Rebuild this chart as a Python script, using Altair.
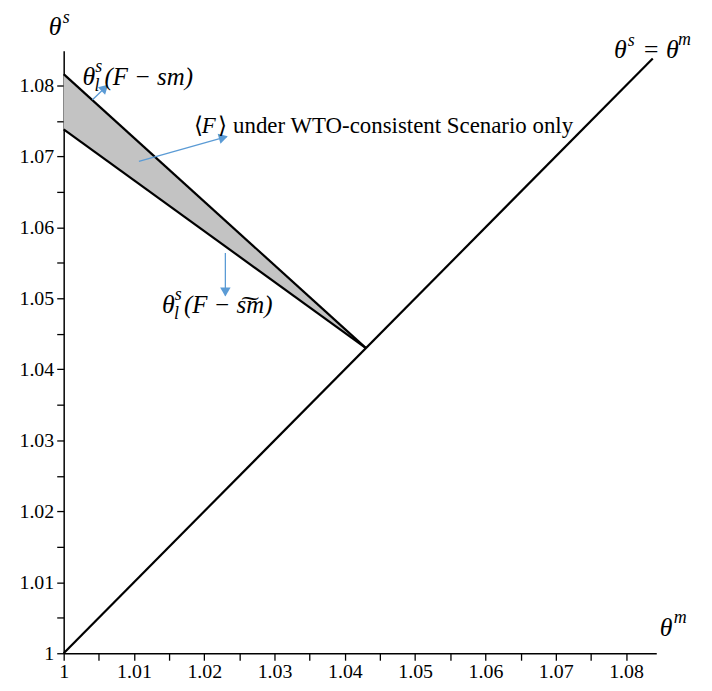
import math
import altair as alt
import pandas as pd

# ---------------- data ----------------
X_DOMAIN = [1.0, 1.0843]
Y_DOMAIN = [1.0, 1.0849]

band_x = [1.0, 1.043]
upper_y = [1.0816, 1.043]     # theta_l^s(F - sm)
lower_y = [1.0738, 1.043]     # theta_l^s(F - s~m)
diag_x = [1.0, 1.0838]
diag_y = [1.0, 1.0838]

arrow_x1 = [1.0041, 1.0107, 1.0230]
arrow_y1 = [1.0780, 1.0693, 1.0564]
arrow_x2 = [1.0062, 1.0232, 1.0230]
arrow_y2 = [1.0800, 1.0728, 1.0504]

tick_values = [round(1.0 + i * 0.005, 3) for i in range(17)]

# math-style annotation pieces (italic)
it_text = ["θ", "(F − sm)", "θ", "(F − s͠m)", "θ", "θ", "θ", "= θ", "F"]
it_x = [1.00269, 1.00580, 1.01399, 1.01710, 0.99788, 1.08480, 1.07830, 1.08230, 1.01965]
it_y = [1.08123, 1.08123, 1.04902, 1.04902, 1.08824, 1.0035, 1.08501, 1.08501, 1.07423]
it_size = [26, 25, 26, 25, 26, 26, 26, 26, 23]

sup_text = ["s", "l", "s", "l", "s", "m", "s", "m"]
sup_x = [1.00450, 1.00440, 1.01580, 1.01570, 0.99985, 1.08680, 1.08025, 1.08740]
sup_y = [1.08263, 1.07990, 1.05042, 1.04780, 1.0895, 1.0049, 1.08627, 1.0864]

rm_text = ["⟨", "⟩ under WTO-consistent Scenario only"]
rm_x = [1.01852, 1.02200]
rm_y = [1.07423, 1.07423]

# ---------------- scales / axes ----------------
W, H = 596, 606
xs = alt.Scale(domain=X_DOMAIN, nice=False, zero=False)
ys = alt.Scale(domain=Y_DOMAIN, nice=False, zero=False)

label_expr = "round(datum.value*1000) % 10 == 0 ? datum.label : ''"
axis_common = dict(
    values=tick_values, format="~g", labelExpr=label_expr, title=None, grid=False,
    domainColor="black", domainWidth=1.5, tickColor="black", tickWidth=1.3,
    tickSize=7, labelFont="Liberation Serif", labelFontSize=20, labelColor="black",
    labelOverlap=False, labelBound=False, labelFlush=False,
)
x_axis = alt.Axis(labelPadding=1, **axis_common)
y_axis = alt.Axis(labelPadding=3, **axis_common)


def X(f):
    return alt.X(f, scale=xs, axis=x_axis)


def Y(f):
    return alt.Y(f, scale=ys, axis=y_axis)


band_df = pd.DataFrame({"x": band_x, "y": lower_y, "y2": upper_y})
band = alt.Chart(band_df).mark_area(color="#c3c3c3", opacity=1).encode(
    x=X("x:Q"), y=Y("y:Q"), y2="y2:Q")

lines_df = pd.concat([
    pd.DataFrame({"x": band_x, "y": upper_y, "k": "upper"}),
    pd.DataFrame({"x": band_x, "y": lower_y, "k": "lower"}),
    pd.DataFrame({"x": diag_x, "y": diag_y, "k": "diag"}),
])
lines = alt.Chart(lines_df).mark_line(color="black", strokeWidth=2.2).encode(
    x=X("x:Q"), y=Y("y:Q"), detail="k:N")

# arrows
pxu = W / (X_DOMAIN[1] - X_DOMAIN[0])
pyu = H / (Y_DOMAIN[1] - Y_DOMAIN[0])
rows = []
for a, b, c, d in zip(arrow_x1, arrow_y1, arrow_x2, arrow_y2):
    dxp = (c - a) * pxu
    dyp = -(d - b) * pyu
    L = math.hypot(dxp, dyp)
    ang = math.degrees(math.atan2(dxp, -dyp)) % 360
    back = 5.0
    hx = c - dxp / L * back / pxu
    hy = d + dyp / L * back / pyu
    rows.append({"x": a, "y": b, "x2": c, "y2": d, "hx": hx, "hy": hy, "ang": ang})
arr_df = pd.DataFrame(rows)
arrow_lines = alt.Chart(arr_df).mark_rule(color="#5b9bd5", strokeWidth=1.3).encode(
    x=X("x:Q"), y=Y("y:Q"), x2="x2:Q", y2="y2:Q")
arrow_heads = alt.Chart(arr_df).mark_point(
    shape="triangle", filled=True, color="#5b9bd5", opacity=1, size=110).encode(
    x=X("hx:Q"), y=Y("hy:Q"), angle=alt.Angle("ang:Q", scale=None))

it_df = pd.DataFrame({"x": it_x, "y": it_y, "t": it_text, "s": it_size})
it_layer = alt.Chart(it_df).mark_text(
    align="left", baseline="middle", font="Liberation Serif", fontStyle="italic",
    color="black").encode(
    x=X("x:Q"), y=Y("y:Q"), text="t:N", size=alt.Size("s:Q", scale=None))

sup_df = pd.DataFrame({"x": sup_x, "y": sup_y, "t": sup_text})
sup_layer = alt.Chart(sup_df).mark_text(
    align="left", baseline="middle", font="Liberation Serif", fontStyle="italic",
    fontSize=18, color="black").encode(
    x=X("x:Q"), y=Y("y:Q"), text="t:N")

rm_df = pd.DataFrame({"x": rm_x, "y": rm_y, "t": rm_text})
rm_layer = alt.Chart(rm_df).mark_text(
    align="left", baseline="middle", font="Liberation Serif", fontSize=23,
    color="black").encode(
    x=X("x:Q"), y=Y("y:Q"), text="t:N")

chart = alt.layer(
    band, lines, arrow_lines, arrow_heads, it_layer, sup_layer, rm_layer
).properties(
    width=W, height=H,
    autosize=alt.AutoSizeParams(type="none"),
    padding={"left": 56, "top": 41, "right": 48, "bottom": 33},
).configure(
    background="white", font="Liberation Serif"
).configure_view(
    stroke=None
).configure_axis(
    labelFont="Liberation Serif", labelFontSize=20, labelColor="black"
)

chart.save("out.html", embed_options={"renderer": "svg", "actions": False})
